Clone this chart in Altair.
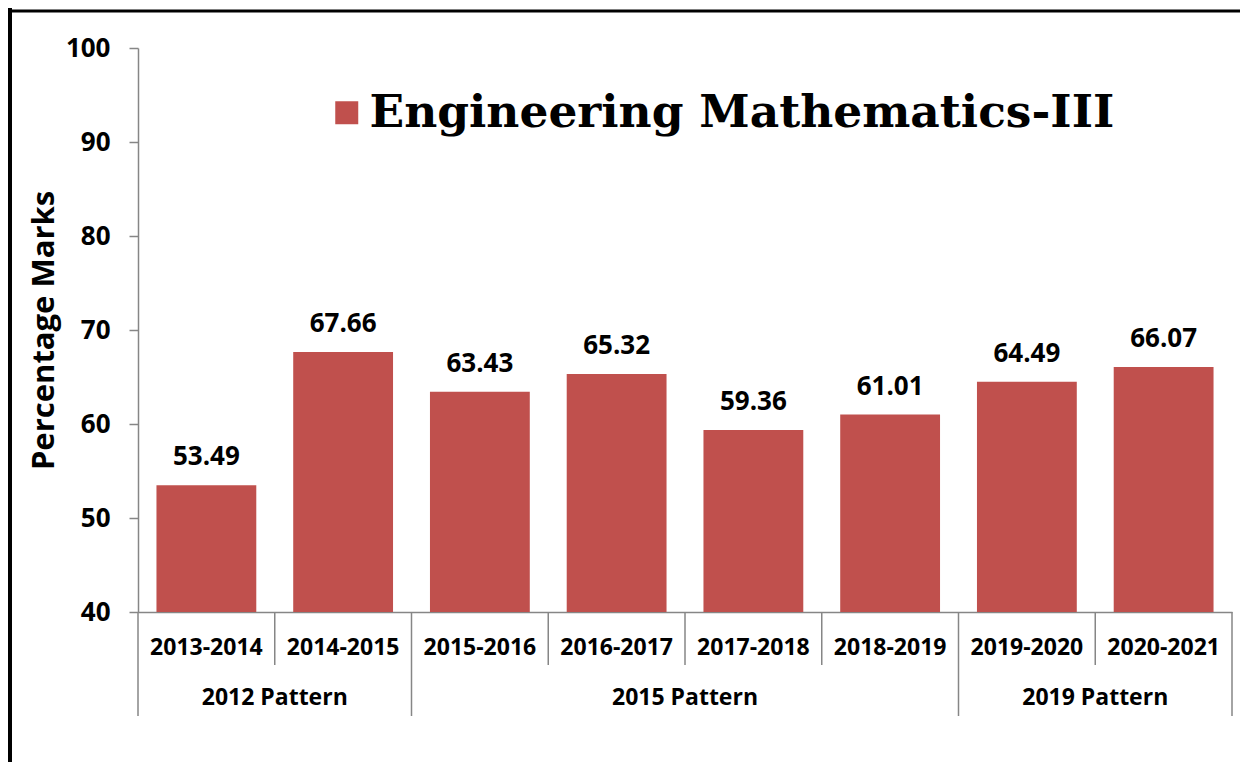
import altair as alt
import pandas as pd

categories = ["2013-2014", "2014-2015", "2015-2016", "2016-2017",
              "2017-2018", "2018-2019", "2019-2020", "2020-2021"]
values = [53.49, 67.66, 63.43, 65.32, 59.36, 61.01, 64.49, 66.07]
series_name = "Engineering Mathematics-III"
group_names = ["2012 Pattern", "2015 Pattern", "2019 Pattern"]
group_sizes = [2, 4, 2]
y_ticks = [40, 50, 60, 70, 80, 90, 100]
y_min, y_max = 40, 100
y_title = "Percentage Marks"

BAR = "#C0504D"
GRAY = "#868686"
FONT = "Open Sans"
W, H = 1094, 564

df = pd.DataFrame({"Year": categories, "Marks": values, "Series": series_name})

# group structure -> divider / label tables
starts, mids = [], []
s = 0
for n in group_sizes:
    starts.append(categories[s])
    mids.append(categories[s + n // 2])
    s += n
short_div = pd.DataFrame({"Year": [c for c in categories if c not in starts]})
long_div = pd.DataFrame({"Year": starts})
end_div = pd.DataFrame({"Year": [categories[-1]]})
grp_df = pd.DataFrame({"Year": mids, "Group": group_names})

x_scale = alt.Scale(domain=categories, paddingInner=0, paddingOuter=0)
y_scale = alt.Scale(domain=[y_min, y_max], nice=False, zero=False)

bars = alt.Chart(df).mark_bar(width=alt.RelativeBandSize(0.73)).encode(
    x=alt.X("Year:N", scale=x_scale, sort=categories, title="",
            axis=alt.Axis(labelFont=FONT, labelFontSize=23, labelFontWeight="bold",
                          labelColor="black", labelAngle=0, labelPadding=24,
                          ticks=False, domainColor=GRAY, domainWidth=1.5,
                          grid=False, labelLimit=0)),
    y=alt.Y("Marks:Q", scale=y_scale,
            axis=alt.Axis(title=y_title, values=y_ticks, labelFont=FONT, labelFontSize=26,
                          labelFontWeight="bold", labelColor="black",
                          labelPadding=19, tickSize=9, tickColor=GRAY, tickWidth=1.5,
                          domainColor=GRAY, domainWidth=1.5, grid=False,
                          titleFont=FONT, titleFontSize=31, titleFontWeight="bold",
                          titleColor="black", titlePadding=5)),
    y2=alt.datum(y_min),
    color=alt.Color("Series:N", scale=alt.Scale(range=[BAR]),
                    legend=alt.Legend(orient="none", legendX=186, legendY=42,
                                      title=None, symbolType="square",
                                      symbolSize=529, symbolStrokeWidth=0,
                                      labelFont="DejaVu Serif", labelFontSize=45.5,
                                      labelFontWeight="bold", labelColor="black",
                                      labelOffset=0, labelLimit=0, padding=0)),
)

labels = alt.Chart(df).mark_text(font=FONT, fontSize=26, fontWeight="bold",
                                 color="black", baseline="alphabetic", dy=-20).encode(
    x=alt.X("Year:N", scale=x_scale, sort=categories),
    y=alt.Y("Marks:Q", scale=y_scale),
    text=alt.Text("Marks:Q", format=".2f"),
)

short_rules = alt.Chart(short_div).mark_rule(color=GRAY, strokeWidth=1.5).encode(
    x=alt.X("Year:N", scale=x_scale, sort=categories, bandPosition=0),
    y=alt.value(H), y2=alt.value(H + 53),
)
long_rules = alt.Chart(long_div).mark_rule(color=GRAY, strokeWidth=1.5).encode(
    x=alt.X("Year:N", scale=x_scale, sort=categories, bandPosition=0),
    y=alt.value(H), y2=alt.value(H + 104),
)
end_rule = alt.Chart(end_div).mark_rule(color=GRAY, strokeWidth=1.5).encode(
    x=alt.X("Year:N", scale=x_scale, sort=categories, bandPosition=1),
    y=alt.value(H), y2=alt.value(H + 104),
)
group_text = alt.Chart(grp_df).mark_text(font=FONT, fontSize=23, fontWeight="bold",
                                         color="black", baseline="middle").encode(
    x=alt.X("Year:N", scale=x_scale, sort=categories, bandPosition=0),
    y=alt.value(H + 86),
    text="Group:N",
)

frame_df = pd.DataFrame({"k": [0]})
frame_left = alt.Chart(frame_df).mark_rule(color="black", strokeWidth=4).encode(
    x=alt.value(-128), y=alt.value(-40), y2=alt.value(H + 160),
)
frame_top = alt.Chart(frame_df).mark_rule(color="black", strokeWidth=3).encode(
    x=alt.value(-130), x2=alt.value(W + 20), y=alt.value(-37),
)

chart = alt.layer(
    bars, labels, short_rules, long_rules, end_rule, group_text, frame_left, frame_top
).properties(
    width=W, height=H,
    autosize=alt.AutoSizeParams(type="none"),
    padding={"left": 130, "top": 40, "right": 8, "bottom": 150},
).configure(background="white", view=alt.ViewConfig(strokeWidth=0))

chart.save("out.html", embed_options={"renderer": "svg", "actions": False})
